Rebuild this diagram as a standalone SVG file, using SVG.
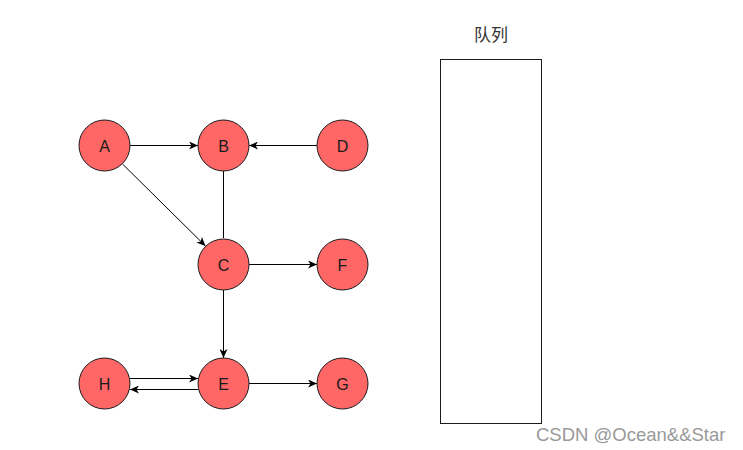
<svg xmlns="http://www.w3.org/2000/svg" width="743" height="450" viewBox="0 0 743 450">
<style>
.n circle{fill:#ff6666;stroke:#1a1a1a;stroke-width:1}
.n text{font-family:"Liberation Sans",Arial,sans-serif;font-size:16px;fill:#1a1a1a;text-anchor:middle;dominant-baseline:central}
.e{stroke:#000;stroke-width:1;fill:none}
.a{marker-end:url(#arr)}
</style>
<defs>
<marker id="arr" markerWidth="10" markerHeight="8" refX="9" refY="4" orient="auto" markerUnits="userSpaceOnUse">
<path d="M0,0 L9,4 L0,8 L2.5,4 Z" fill="#000"/>
</marker>
</defs>
<rect width="743" height="450" fill="#fff"/>
<g id="edges">
<line class="e a" x1="130" y1="145.5" x2="198" y2="145.5"/>
<line class="e a" x1="317" y1="145.5" x2="249" y2="145.5"/>
<line class="e" x1="223.5" y1="171" x2="223.5" y2="238"/>
<line class="e a" x1="122.5" y1="164" x2="205.5" y2="246"/>
<line class="e a" x1="249" y1="264.5" x2="317" y2="264.5"/>
<line class="e a" x1="223.5" y1="290" x2="223.5" y2="358"/>
<line class="e a" x1="130" y1="378.5" x2="198" y2="378.5"/>
<line class="e a" x1="198" y1="389.5" x2="130" y2="389.5"/>
<line class="e a" x1="249" y1="383.5" x2="317" y2="383.5"/>
</g>
<g id="A" class="n"><circle cx="104.5" cy="145.5" r="25.5"/><text x="104.5" y="146">A</text></g>
<g id="B" class="n"><circle cx="223.5" cy="145.5" r="25.5"/><text x="223.5" y="146">B</text></g>
<g id="D" class="n"><circle cx="342.5" cy="145.5" r="25.5"/><text x="342.5" y="146">D</text></g>
<g id="C" class="n"><circle cx="223.5" cy="264.5" r="25.5"/><text x="223.5" y="265">C</text></g>
<g id="F" class="n"><circle cx="342.5" cy="264.5" r="25.5"/><text x="342.5" y="265">F</text></g>
<g id="H" class="n"><circle cx="104.5" cy="383.5" r="25.5"/><text x="104.5" y="384">H</text></g>
<g id="E" class="n"><circle cx="223.5" cy="383.5" r="25.5"/><text x="223.5" y="384">E</text></g>
<g id="G" class="n"><circle cx="342.5" cy="383.5" r="25.5"/><text x="342.5" y="384">G</text></g>
<g id="queue">
<rect x="440.5" y="59.5" width="101" height="364" fill="#fff" stroke="#1a1a1a" stroke-width="1"/>
<text x="491" y="41" font-family="'Noto Sans CJK SC',sans-serif" font-size="17" fill="#333" text-anchor="middle">队列</text>
</g>
<text x="536" y="441" font-family="'Liberation Sans',Arial,sans-serif" font-size="18.5" fill="#999">CSDN @Ocean&amp;&amp;Star</text>
</svg>
